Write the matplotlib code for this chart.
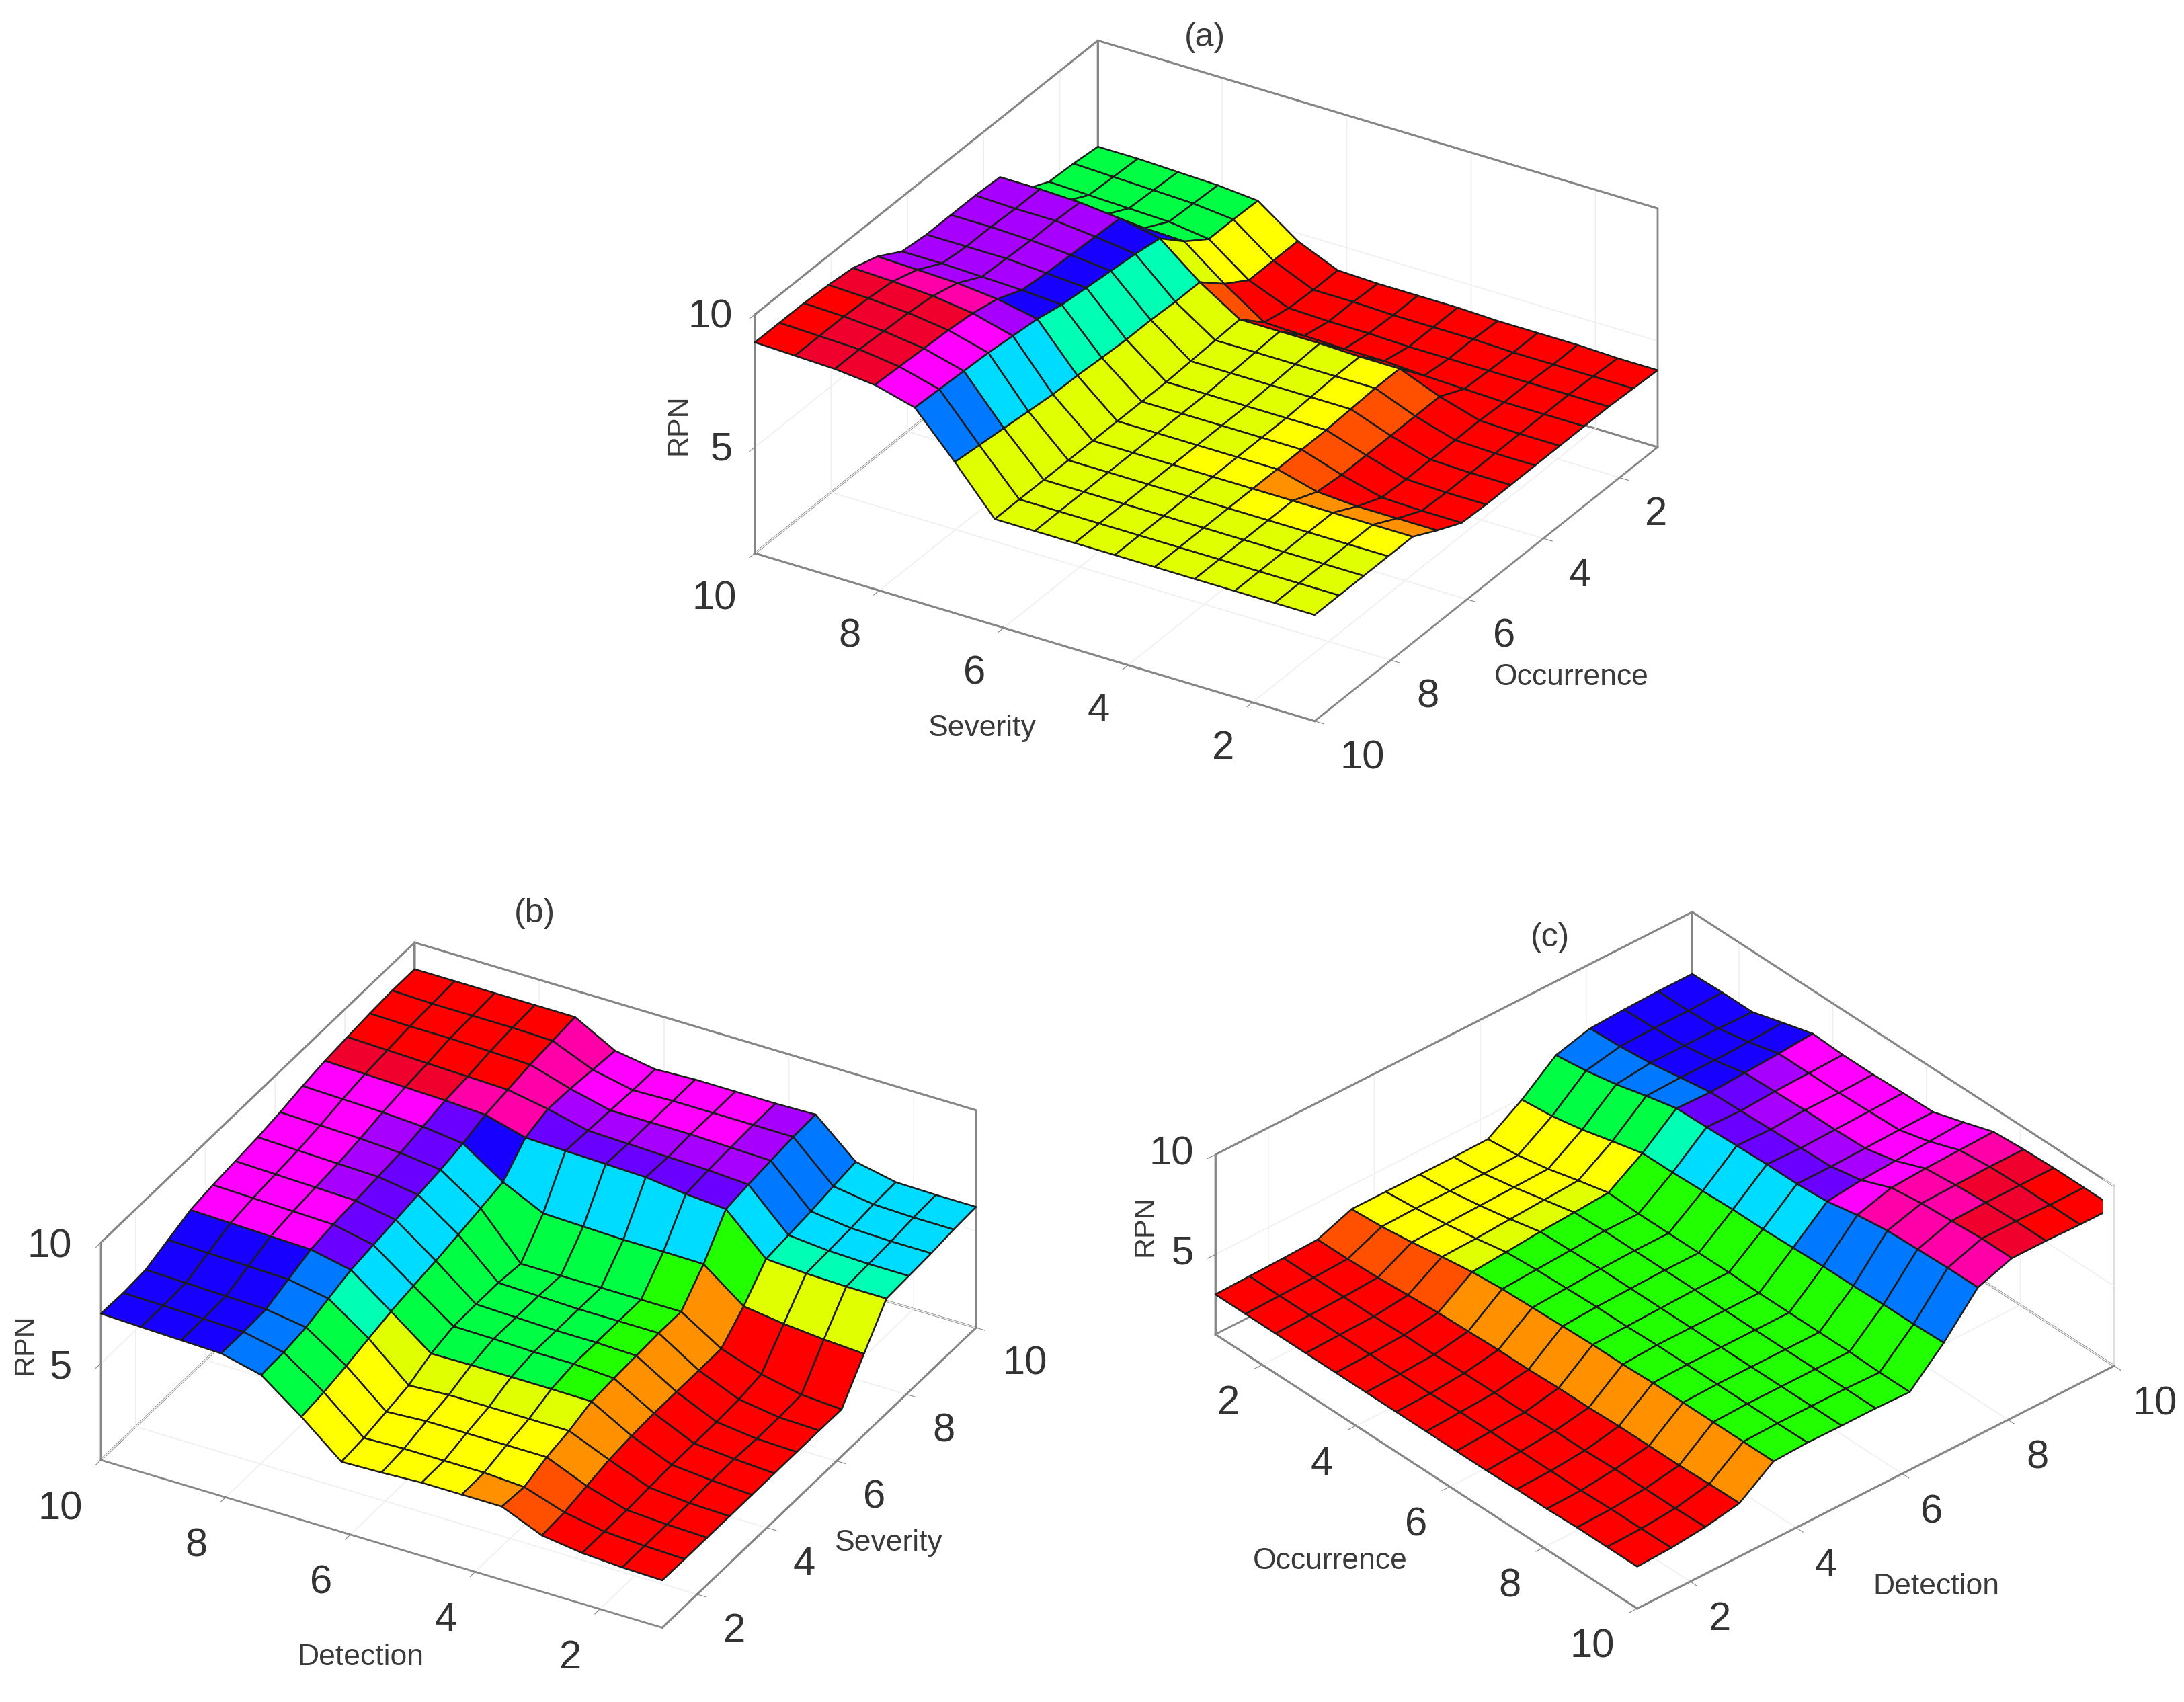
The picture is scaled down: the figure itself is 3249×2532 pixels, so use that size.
import numpy as np
import matplotlib
matplotlib.use("Agg")
import matplotlib.pyplot as plt
from matplotlib.colors import to_rgba
from mpl_toolkits.mplot3d import proj3d

FONT = ['Liberation Sans', 'DejaVu Sans']
plt.rcParams['font.family'] = FONT

PALETTE = dict(R='#ff0000', C='#f0002c', H='#ff00a8', M='#ff00ff', P='#a800ff', V='#6a00ff',
               B='#1800ff', A='#0078ff', K='#00dcff', T='#00ffb4', G='#00ff44', L='#22ff00',
               W='#e0ff00', Y='#ffff00', O='#ff9000', D='#ff5000')

# rows run from the front edge to the back wall, columns from the left corner to the front corner
severity_a = [10, 1]
occurrence_a = [10, 1]
rpn_a = [
 [8.95,8.9,8.85,8.7,8.3,6.7,5.0,5.0,5.0,5.0,5.0,5.0,5.0,5.0,5.0],
 [8.95,8.9,8.85,8.65,8.25,6.6,5.0,5.0,5.0,5.0,5.0,5.0,5.0,5.0,5.0],
 [8.95,8.9,8.8,8.6,8.2,6.5,5.0,5.0,5.0,5.0,5.0,5.0,5.0,5.0,5.0],
 [8.9,8.85,8.75,8.55,8.15,6.4,5.0,5.0,5.0,5.0,5.0,5.0,5.0,5.0,5.0],
 [8.8,8.75,8.65,8.45,8.05,6.3,5.0,5.0,5.0,5.0,5.0,5.0,5.0,5.0,5.0],
 [8.5,8.45,8.4,8.25,7.95,6.27,5.0,5.0,5.0,5.0,5.0,4.6,4.5,4.5,4.5],
 [7.95,7.95,7.9,7.85,7.75,6.2,5.0,5.0,5.0,5.0,5.0,4.5,4.1,4.05,4.05],
 [7.85,7.85,7.85,7.75,7.65,6.15,5.0,5.0,5.0,5.0,5.0,4.5,4.05,4.0,4.0],
 [7.85,7.85,7.8,7.7,7.55,6.15,5.05,5.05,5.05,5.05,5.05,4.5,4.05,4.0,4.0],
 [7.85,7.8,7.8,7.65,7.45,6.1,5.1,5.1,5.1,5.1,5.1,4.5,4.05,4.0,4.0],
 [7.8,7.8,7.75,7.6,7.3,6.1,5.15,5.15,5.15,5.1,5.1,4.5,4.05,4.0,4.0],
 [6.6,6.6,6.55,6.5,6.45,5.3,4.3,4.25,4.2,4.2,4.1,4.05,4.0,4.0,4.0],
 [6.15,6.1,6.05,6.0,5.8,4.7,4.1,4.05,4.05,4.0,4.0,4.0,4.0,4.0,4.0],
 [6.1,6.05,6.0,5.95,5.8,4.7,4.05,4.05,4.0,4.0,4.0,3.95,3.95,3.95,3.95],
 [6.0,6.0,5.95,5.9,5.77,4.7,4.05,4.0,4.0,4.0,3.95,3.95,3.95,3.9,3.9],
]
cells_a = [
 "RCCMAWWWWWWWWW",
 "RCCMAWWWWWWWWW",
 "RCCMKWWWWWWWWW",
 "CCCMKWWWWWYYYY",
 "HHHPKWWWYYOOOO",
 "PPPBTWWWWYDRRR",
 "PPPBTWWWWYDRRR",
 "PPPBTWWWWYDRRR",
 "PPPBTWWWWYDRRR",
 "PPPBTWWWWYDRRR",
 "VVVBWDRRRRRRRR",
 "GGGGYRRRRRRRRR",
 "GGGGYRRRRRRRRR",
 "GGGGYRRRRRRRRR",
]

detection_b = [10, 1]
severity_b = [1, 10]
rpn_b = [
 [7.06,7.0,6.95,6.9,6.5,5.27,3.9,3.95,4.03,4.03,4.03,3.33,3.1,3.0,2.96],
 [7.03,7.0,6.95,6.9,6.55,5.4,4.0,4.05,4.05,4.05,3.95,3.4,3.1,3.0,2.95],
 [7.1,7.05,7.0,6.95,6.7,5.6,4.2,4.3,4.3,4.3,4.3,3.6,3.1,3.0,2.95],
 [7.45,7.4,7.35,7.3,7.0,5.85,4.4,4.5,4.5,4.5,4.5,3.8,3.15,3.0,2.95],
 [7.8,7.75,7.7,7.65,7.3,6.08,4.83,4.85,4.85,4.85,4.83,3.9,3.2,3.05,2.95],
 [7.95,7.9,7.85,7.8,7.45,6.25,5.07,5.05,5.0,5.0,4.9,3.95,3.2,3.05,2.95],
 [8.05,8.0,7.95,7.9,7.6,6.4,5.1,5.05,5.0,5.0,4.95,3.95,3.2,3.0,2.95],
 [8.15,8.1,8.05,8.0,7.75,6.6,5.1,5.05,5.0,5.0,5.0,3.95,3.25,3.0,2.95],
 [8.3,8.25,8.2,8.1,7.9,6.8,5.0,5.0,5.0,5.0,5.0,3.96,3.4,3.05,2.94],
 [8.5,8.45,8.4,8.3,8.1,7.0,6.2,6.15,6.1,6.1,6.08,4.83,4.6,4.45,4.35],
 [8.65,8.6,8.55,8.5,8.4,7.95,7.9,7.85,7.8,7.6,7.47,5.9,5.8,5.75,5.75],
 [8.75,8.7,8.65,8.6,8.55,8.25,7.85,7.8,7.75,7.7,7.6,6.0,5.85,5.8,5.8],
 [8.84,8.8,8.8,8.75,8.7,8.2,7.8,7.8,7.8,7.75,7.7,6.1,5.9,5.85,5.85],
 [8.9,8.85,8.85,8.85,8.8,8.1,7.75,7.8,7.8,7.8,7.8,6.25,6.0,5.95,5.95],
 [8.9,8.9,8.9,8.9,8.9,8.0,7.73,7.8,7.8,7.8,7.84,6.38,6.03,6.0,6.0],
]
cells_b = [
 "BBBAGYYYYODRRR",
 "BBBAGYYYYYDRRR",
 "BBBAGYYYYYORRR",
 "BBBATWWWWWORRR",
 "MMMVKGGGGLORRR",
 "MMMVKGGGGLORRR",
 "MMPVKGGGGLORRR",
 "MMPVKGGGGLORRR",
 "MMPVKGGGGLORRR",
 "MMMVBKKKKKLWWW",
 "CCCHHVVVVVKTTT",
 "RRRRHPPPPPAKKK",
 "RRRRHMMMMPAKKK",
 "RRRRHMMMMPAKKK",
]

occurrence_c = [1, 10]
detection_c = [1, 10]
rpn_c = [
 [3.0,3.0,3.0,3.0,3.0,3.0,3.0,3.0,3.0,3.0,3.05,3.05,3.1,3.1,3.1],
 [3.04,3.04,3.05,3.05,3.05,3.05,3.05,3.1,3.1,3.1,3.1,3.1,3.15,3.15,3.17],
 [3.08,3.08,3.1,3.1,3.15,3.15,3.2,3.2,3.2,3.25,3.25,3.3,3.3,3.3,3.35],
 [3.14,3.15,3.2,3.3,3.4,3.45,3.5,3.5,3.55,3.55,3.6,3.6,3.6,3.65,3.67],
 [3.8,3.9,4.1,4.35,4.57,4.7,4.75,4.8,4.85,4.85,4.9,4.9,4.9,4.9,4.9],
 [3.8,3.95,4.15,4.4,4.7,4.8,4.85,4.9,4.9,4.95,4.95,4.95,4.95,4.95,4.97],
 [3.8,3.95,4.2,4.5,4.85,4.9,4.95,4.95,4.95,4.95,4.95,4.95,4.95,4.95,4.95],
 [3.8,3.95,4.25,4.6,4.95,5.0,5.0,5.0,5.0,4.95,4.95,4.95,4.95,4.95,4.95],
 [3.83,4.0,4.3,4.7,5.07,5.0,5.0,5.0,5.0,4.95,4.95,4.95,4.95,4.9,4.9],
 [4.94,5.1,5.4,5.8,6.18,6.2,6.25,6.3,6.3,6.35,6.4,6.4,6.45,6.45,6.5],
 [6.3,6.5,6.8,7.2,7.56,7.6,7.65,7.7,7.7,7.8,8.1,8.3,8.35,8.4,8.4],
 [6.77,6.85,7.0,7.25,7.5,7.55,7.6,7.65,7.7,8.0,8.6,8.8,8.9,9.0,9.0],
 [6.85,6.9,7.0,7.25,7.6,7.65,7.7,7.7,7.75,8.1,8.7,8.85,8.95,9.0,9.0],
 [6.9,6.9,7.0,7.3,7.7,7.7,7.7,7.75,7.8,8.2,8.75,8.9,8.95,8.95,8.95],
 [6.9,6.95,6.95,7.4,7.83,7.75,7.75,7.8,7.83,8.3,8.8,8.9,8.95,8.95,8.94],
]
cells_c = [
 "RRRRRRRRRRRRRR",
 "RRRRRRRRRRRRRR",
 "RRRRRRRRRRRRRR",
 "DDDDOOOOOOOOOO",
 "YYYWLLLLLLLLLL",
 "YYYWLLLLLLLLLL",
 "YYYWLLLLLLLLLL",
 "YYYWLLLLLLLLLL",
 "YYYYLLLLLLLLLL",
 "GGGGTKKKKAAAAA",
 "AAAAVVVVVMHHHH",
 "BBBBVPPPPMHHCC",
 "BBBBPMMMMMHCCR",
 "BBBBMMMMMMHCRR",
]

xticks = [2, 4, 6, 8, 10]
zticks = [5, 10]

W, H = 3249, 2532
fig = plt.figure(figsize=(W / 100, H / 100), dpi=100, facecolor='white')
GREY = '#868686'
NPTS = 15


def panel(col_range, row_range, zvals, cells, x_is_col, elev, azim, ratio, zside, walls):
    ax = fig.add_axes([0.1, 0.1, 0.5, 0.5], projection='3d', proj_type='ortho', computed_zorder=False)
    ax.view_init(elev=elev, azim=azim)
    ax.set_box_aspect((1, 1, ratio))
    cols = np.linspace(col_range[0], col_range[1], NPTS)
    rows = np.linspace(row_range[0], row_range[1], NPTS)
    C, Rw = np.meshgrid(cols, rows)
    X, Y = (C, Rw) if x_is_col else (Rw, C)
    fc = np.array([[to_rgba(PALETTE[ch]) for ch in row] for row in cells])
    surf = ax.plot_surface(X, Y, np.array(zvals), rstride=1, cstride=1, facecolors=fc, shade=False, zorder=3)
    surf.set_edgecolor('#1c1c1c')
    surf.set_linewidth(1.8)
    # outline of the two back walls: left, back and right corners
    (lx, ly), (bx, by), (rx, ry) = walls
    ax.plot([lx, lx, bx, bx, bx, rx, rx], [ly, ly, by, by, by, ry, ry], [1, 10, 10, 1, 10, 10, 1],
            color=GREY, lw=2.0, zorder=1)
    ax.set_xlim(1, 10, view_margin=0)
    ax.set_ylim(1, 10, view_margin=0)
    ax.set_zlim(1, 10, view_margin=0)
    ax.set_xticks(xticks)
    ax.set_yticks(xticks)
    ax.set_zticks(zticks)
    ax.patch.set_alpha(0)
    for axis in (ax.xaxis, ax.yaxis, ax.zaxis):
        axis.pane.set_alpha(None)
        axis.pane.set_facecolor((1, 1, 1, 0))
        axis.pane.set_edgecolor(GREY)
        axis.pane.set_linewidth(2.0)
        axis.line.set_color(GREY)
        axis.line.set_linewidth(2.0)
        axis._axinfo['grid'].update(color='#efefef', linewidth=1.2)
        axis._axinfo['tick'].update(inward_factor=0.2, outward_factor=0.0)
    ax.zaxis.set_ticks_position(zside)
    ax.tick_params(axis='both', labelsize=43, colors='#333333')
    return ax


def style_ticks(axis, pad, ha, va='top'):
    axis.set_tick_params(pad=pad)
    for t in axis.get_major_ticks():
        t.label1.set_ha(ha)
        t.label1.set_va(va)
        t.tick1line.set_color(GREY)


def fit(ax, p_from, p_to):
    """p_from, p_to: ((x, y, z) data point, (px, py) image pixel)."""
    fig.canvas.draw()
    M = ax.get_proj()
    pos = ax.get_position()
    L0 = pos.width * W
    l0, b0 = pos.x0 * W, pos.y0 * H
    pts = []
    for (d, _) in (p_from, p_to):
        x, y, _z = proj3d.proj_transform(*d, M)
        pts.append(ax.transData.transform((x, y)))
    (ax0, ay0), (ax1, ay1) = pts
    t0, t1 = p_from[1], p_to[1]
    L = L0 * (t1[0] - t0[0]) / (ax1 - ax0)
    s = L / L0
    left = t0[0] - s * (ax0 - l0)
    bottom = (H - t0[1]) - s * (ay0 - b0)
    ax.set_position([left / W, bottom / H, L / W, L / H])


# (a) Severity on x, Occurrence on y
ax_a = panel(severity_a, occurrence_a, rpn_a, cells_a, True, 29.3, 121.5, 0.417, 'upper',
             [(10, 10), (10, 1), (1, 1)])
fit(ax_a, ((10, 10, 1), (1123, 823)), ((1, 1, 1), (2466, 667)))
style_ticks(ax_a.xaxis, 20, 'right')
style_ticks(ax_a.yaxis, 16, 'left')
style_ticks(ax_a.zaxis, 5, 'right', 'center')

# (b) Severity on x, Detection on y
ax_b = panel(detection_b, severity_b, rpn_b, cells_b, False, 32.3, 209.2, 0.40, 'default',
             [(1, 10), (10, 10), (10, 1)])
fit(ax_b, ((1, 10, 1), (150, 2172)), ((10, 1, 1), (1452, 1972)))
style_ticks(ax_b.yaxis, 22, 'right')
style_ticks(ax_b.xaxis, 16, 'left')
style_ticks(ax_b.zaxis, 9, 'right', 'center')

# (c) Occurrence on x, Detection on y
ax_c = panel(occurrence_c, detection_c, rpn_c, cells_c, True, 35.1, -41.5, 0.345, 'lower',
             [(1, 1), (1, 10), (10, 10)])
fit(ax_c, ((1, 1, 1), (1808, 1985)), ((10, 10, 1), (3145, 2029)))
style_ticks(ax_c.xaxis, 16, 'right')
style_ticks(ax_c.yaxis, 14, 'left')
style_ticks(ax_c.zaxis, 4, 'right', 'center')

TXT = '#3a3a3a'


def label(s, x, y, size, rot=0):
    fig.text(x / W, 1 - y / H, s, ha='center', va='center', fontsize=size, rotation=rot, color=TXT)


k = 2.0721
label('(a)', 865 * k, 27 * k, 36)
label('RPN', 487 * k, 305 * k, 31, 90)
label('Severity', 705 * k, 523 * k, 32)
label('Occurrence', 1128 * k, 486 * k, 32)
label('(b)', 384 * k, 656 * k, 36)
label('RPN', 18 * k, 965 * k, 31, 90)
label('Detection', 259 * k, 1190 * k, 32)
label('Severity', 638 * k, 1108 * k, 32)
label('(c)', 1113 * k, 673 * k, 36)
label('RPN', 822 * k, 880 * k, 31, 90)
label('Occurrence', 955 * k, 1121 * k, 32)
label('Detection', 1390 * k, 1139 * k, 32)

fig.savefig('out.png', dpi=100, facecolor='white')
